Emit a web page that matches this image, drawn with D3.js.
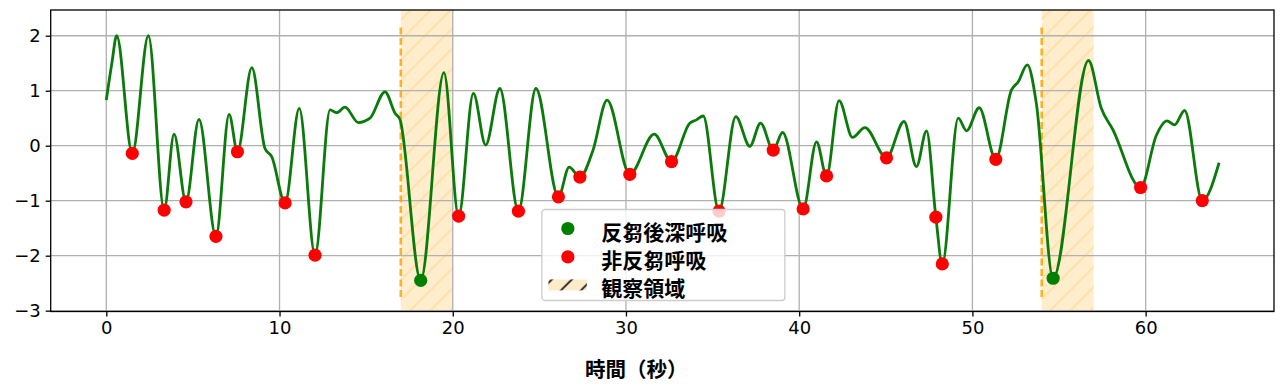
<!DOCTYPE html>
<html>
<head>
<meta charset="utf-8">
<script src="https://cdn.jsdelivr.net/npm/d3@7"></script>
<style>
  body { margin: 0; background: #fff; }
  svg { display: block; }
</style>
</head>
<body>
<svg id="chart" width="1280" height="392"></svg>
<script>
// breathing signal (time in s, value)
const times = [0, 0.32, 0.6, 1.5, 2.43, 3.34, 3.91, 4.6, 5.35, 6.33, 7.09, 7.57, 8.4, 9.16, 9.55, 10.32,
  11.14, 12.05, 12.92, 13.3, 13.78, 14.55, 15.22, 16.09, 16.67, 16.95, 18.15, 19.49, 20.34, 21.19,
  21.9, 22.72, 23.79, 24.8, 26.1, 26.72, 27.34, 28.1, 28.91, 30.22, 31.63, 32.63, 33.68, 34.07,
  34.46, 35.37, 36.34, 37.15, 37.77, 38.5, 39.04, 40.23, 41.0, 41.58, 42.3, 43.08, 43.79, 45.04,
  46.05, 46.77, 47.35, 47.89, 48.26, 49.18, 49.66, 50.39, 51.35, 52.25, 52.64, 53.17, 53.69,
  54.66, 56.7, 57.44, 58.11, 59.71, 60.62, 61.23, 61.67, 62.25, 63.27, 64.24];
const values = [0.83, 1.5, 2.0, -0.14, 2.0, -1.17, 0.21, -1.02, 0.48, -1.65, 0.57, -0.11, 1.42, -0.05, -0.2, -1.04,
  0.68, -1.99, 0.65, 0.6, 0.7, 0.42, 0.5, 0.98, 0.59, 0.48, -2.45, 1.33, -1.28, 0.95,
  0.01, 1.04, -1.19, 1.04, -0.93, -0.39, -0.57, -0.08, 0.83, -0.52, 0.21, -0.29, 0.41, 0.47,
  0.54, -1.19, 0.53, -0.01, 0.41, -0.08, 0.24, -1.15, 0.07, -0.55, 0.82, 0.15, 0.33, -0.22,
  0.44, -0.38, 0.27, -1.3, -2.15, 0.5, 0.27, 0.69, -0.25, 1.01, 1.16, 1.47, 0.77,
  -2.41, 1.55, 0.68, 0.29, -0.76, 0.19, 0.45, 0.38, 0.64, -1.0, -0.31];

// non-rumination breaths (red)
const redT = [1.5, 3.34, 4.6, 6.33, 7.57, 10.32, 12.05, 20.34, 23.79, 26.1, 27.34, 30.22, 32.63,
  35.37, 38.5, 40.23, 41.58, 45.04, 47.89, 48.26, 51.35, 59.71, 63.27];
const redV = [-0.14, -1.17, -1.02, -1.65, -0.11, -1.04, -1.99, -1.28, -1.19, -0.93, -0.57, -0.52, -0.29,
  -1.19, -0.08, -1.15, -0.55, -0.22, -1.3, -2.15, -0.25, -0.76, -1.0];

// deep breaths after rumination (green)
const greenT = [18.15, 54.66];
const greenV = [-2.45, -2.41];

// observation windows
const spanStart = [17, 54];
const spanEnd = [20, 57];
const vlineRange = [-2.75, 2.2];

const xTicks = [0, 10, 20, 30, 40, 50, 60];
const yTicks = [-3, -2, -1, 0, 1, 2];
const legendLabels = ["反芻後深呼吸", "非反芻呼吸", "観察領域"];
const xLabel = "時間（秒）";

const svg = d3.select("#chart");
const W = 1280, H = 392;
const margin = {top: 10, right: 6, bottom: 80.5, left: 50.7};
const plotW = W - margin.left - margin.right;
const plotH = H - margin.top - margin.bottom;

const x = d3.scaleLinear().domain([-3.21, 67.41]).range([0, plotW]);
const y = d3.scaleLinear().domain([-3.015, 2.468]).range([plotH, 0]);

const defs = svg.append("defs");
// hatch for the spans
let pat = defs.append("pattern").attr("id", "hatch")
  .attr("patternUnits", "userSpaceOnUse").attr("width", 20).attr("height", 20);
pat.append("path").attr("d", "M-5,5 L5,-5 M0,20 L20,0 M15,25 L25,15")
  .attr("stroke", "orange").attr("stroke-opacity", 0.22).attr("stroke-width", 1.5);
let pat2 = defs.append("pattern").attr("id", "hatchLeg")
  .attr("patternUnits", "userSpaceOnUse").attr("width", 20).attr("height", 20);
pat2.append("rect").attr("width", 20).attr("height", 20).attr("fill", "#fdebc9");
pat2.append("path").attr("d", "M-5,5 L5,-5 M0,20 L20,0 M15,25 L25,15")
  .attr("stroke", "#111").attr("stroke-width", 1.6);

let plot = svg.append("g").attr("transform", "translate(" + margin.left + "," + margin.top + ")");

// spans
let spans = plot.append("g");
spanStart.forEach(function(s, i) {
  spans.append("rect")
    .attr("x", x(s)).attr("y", 0)
    .attr("width", x(spanEnd[i]) - x(s)).attr("height", plotH)
    .attr("fill", "orange").attr("fill-opacity", 0.2);
  spans.append("rect")
    .attr("x", x(s)).attr("y", 0)
    .attr("width", x(spanEnd[i]) - x(s)).attr("height", plotH)
    .attr("fill", "url(#hatch)");
});

// grid
let grid = plot.append("g");
grid.selectAll("line.gx").data(xTicks).enter().append("line")
  .attr("x1", d => x(d)).attr("x2", d => x(d)).attr("y1", 0).attr("y2", plotH)
  .attr("stroke", "#b0b0b0").attr("stroke-width", 1.3);
grid.selectAll("line.gy").data(yTicks).enter().append("line")
  .attr("y1", d => y(d)).attr("y2", d => y(d)).attr("x1", 0).attr("x2", plotW)
  .attr("stroke", "#b0b0b0").attr("stroke-width", 1.3);

// dashed start lines
plot.selectAll("line.vl").data(spanStart).enter().append("line")
  .attr("x1", d => x(d)).attr("x2", d => x(d))
  .attr("y1", y(vlineRange[0])).attr("y2", y(vlineRange[1]))
  .attr("stroke", "orange").attr("stroke-opacity", 0.85)
  .attr("stroke-width", 2.6).attr("stroke-dasharray", "7,3.5");

// signal
let line = d3.line().x(d => x(d[0])).y(d => y(d[1])).curve(d3.curveMonotoneX);
plot.append("path").datum(d3.zip(times, values))
  .attr("d", line).attr("fill", "none")
  .attr("stroke", "#0a7a0a").attr("stroke-width", 2.8).attr("stroke-linejoin", "round");

plot.selectAll("circle.red").data(d3.zip(redT, redV)).enter().append("circle")
  .attr("cx", d => x(d[0])).attr("cy", d => y(d[1])).attr("r", 6.6).attr("fill", "red");
plot.selectAll("circle.green").data(d3.zip(greenT, greenV)).enter().append("circle")
  .attr("cx", d => x(d[0])).attr("cy", d => y(d[1])).attr("r", 6.6).attr("fill", "green");

// axes
let xAxis = d3.axisBottom(x).tickValues(xTicks).tickSize(5).tickPadding(5).tickFormat(d3.format("d"));
let yAxis = d3.axisLeft(y).tickValues(yTicks).tickSize(5).tickPadding(5).tickFormat(d3.format("d"));
let xg = plot.append("g").attr("transform", "translate(0," + plotH + ")").call(xAxis);
let yg = plot.append("g").call(yAxis);
[xg, yg].forEach(function(g) {
  g.select(".domain").remove();
  g.selectAll(".tick line").attr("stroke", "#000").attr("stroke-width", 1.3);
  g.selectAll(".tick text").attr("fill", "#000")
    .style("font-family", "DejaVu Sans").style("font-size", "18px");
});
plot.append("rect").attr("width", plotW).attr("height", plotH)
  .attr("fill", "none").attr("stroke", "#000").attr("stroke-width", 1.3);

svg.append("text").text(xLabel)
  .attr("x", margin.left + plotW / 2 - 26).attr("y", 368)
  .attr("text-anchor", "middle").attr("dominant-baseline", "central")
  .style("font-family", "'Noto Sans CJK JP'").style("font-weight", "bold").style("font-size", "20.5px");

// legend
const legW = 243, legH = 91;
let leg = plot.append("g")
  .attr("transform", "translate(" + (plotW / 2 - legW / 2 + 1) + "," + (plotH - 11 - legH) + ")");
leg.append("rect").attr("width", legW).attr("height", legH).attr("rx", 3)
  .attr("fill", "#fff").attr("fill-opacity", 0.8).attr("stroke", "#cccccc").attr("stroke-width", 1.3);
const rowY = [19, 47.4, 75.4];
leg.append("circle").attr("cx", 26).attr("cy", rowY[0]).attr("r", 6.6).attr("fill", "green");
leg.append("circle").attr("cx", 26).attr("cy", rowY[1]).attr("r", 6.6).attr("fill", "red");
leg.append("rect").attr("x", 6.6).attr("y", rowY[2] - 5.5).attr("width", 38.4).attr("height", 11)
  .attr("fill", "url(#hatchLeg)");
leg.selectAll("text").data(legendLabels).enter().append("text")
  .text(d => d)
  .attr("x", 59.3).attr("y", (d, i) => rowY[i] + 2)
  .attr("dominant-baseline", "central")
  .style("font-family", "'Noto Sans CJK JP'").style("font-weight", "bold").style("font-size", "21px");
</script>
</body>
</html>
